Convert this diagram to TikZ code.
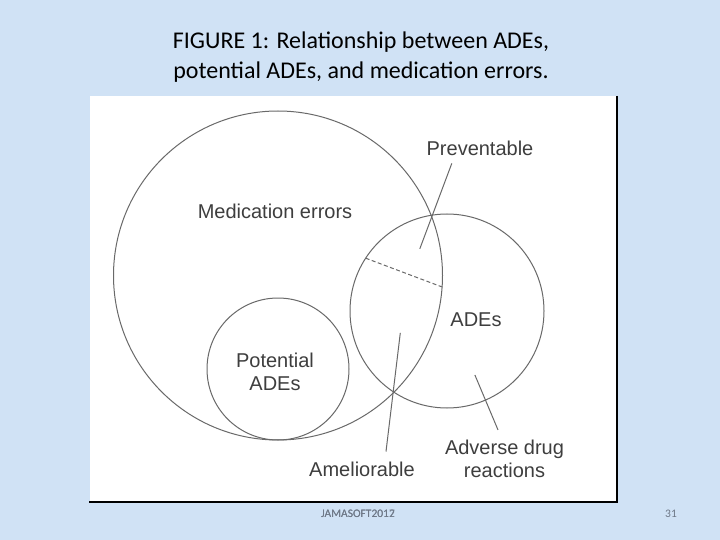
\documentclass[tikz,border=0pt]{standalone}
\usepackage{fontspec}
\setmainfont{Liberation Sans}
\newfontfamily\calfont{Carlito}
\definecolor{bgblue}{RGB}{208,226,245}
\definecolor{txtgray}{RGB}{62,62,62}
\definecolor{lngray}{RGB}{105,105,105}
\definecolor{footgray}{RGB}{110,120,135}
\tikzset{
  circ/.style={circle, draw=lngray, line width=1pt, inner sep=0pt, outer sep=0pt},
  lbl/.style={text=txtgray, font=\fontsize{20}{23}\selectfont, align=center, inner sep=0pt},
  leader/.style={draw=lngray, line width=1pt},
  ttl/.style={text=black, font=\calfont\fontsize{24}{30}\selectfont, align=center, inner sep=0pt},
  foot/.style={text=footgray, font=\calfont\fontsize{11.5}{13}\selectfont, inner sep=0pt}
}
\begin{document}
\begin{tikzpicture}[x=1pt,y=-1pt]
\useasboundingbox (0,0) rectangle (720,540);
\fill[bgblue] (0,0) rectangle (720,540);
% white panel with dark right/bottom border
\fill[white] (90,96) rectangle (617,502);
\draw[black, line width=1.5pt] (617,96) -- (617,502) -- (89,502);
% title
\node[ttl] (title) at (361,57) {FIGURE 1: Relationship between ADEs,\\potential ADEs, and medication errors.};
% circles
\node[circ, minimum size=329pt] (me) at (278,275.5) {};
\node[circ, minimum size=194pt] (rc) at (447,311) {};
\node[circ, minimum size=142pt] (pc) at (278,369) {};
% dashed divider
\draw[draw=lngray, line width=1pt, dash pattern=on 4pt off 2.5pt] (rc.147.6) -- (me.-4);
% labels
\node[lbl] (lme) at (275,211) {Medication errors};
\node[lbl] (lprev) at (480,148) {Preventable};
\node[lbl] (lade) at (476,320) {ADEs};
\node[lbl] (lpot) at (275,372) {Potential\\ADEs};
\node[lbl] (lamel) at (362,469) {Ameliorable};
\node[lbl] (ladr) at (504.5,459) {Adverse drug\\reactions};
% leader lines
\coordinate (p1) at (451.8,163.4);
\coordinate (p2) at (419.8,248.8);
\coordinate (a1) at (400.3,332.9);
\coordinate (a2) at (386,451.5);
\coordinate (r1) at (474.9,375);
\coordinate (r2) at (498,429.9);
\draw[leader] (p1) -- (p2);
\draw[leader] (a1) -- (a2);
\draw[leader] (r1) -- (r2);
% footer
\node[foot] (f1) at (358,514) {JAMASOFT2017};
\node[foot] (f2) at (358,514) {JAMASOFT2012};
\node[foot] (pg) at (671,514) {31};
\end{tikzpicture}
\end{document}
